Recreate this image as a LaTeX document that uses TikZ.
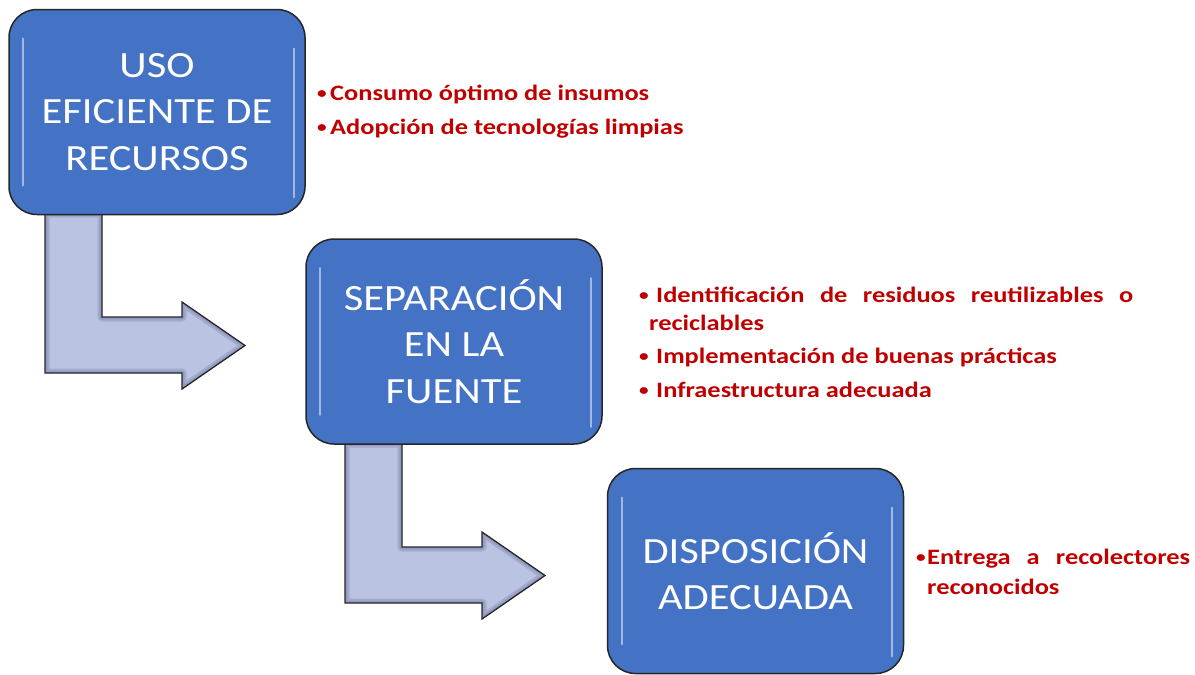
\documentclass[tikz,border=0pt]{standalone}
\usepackage{fontspec}
\setmainfont{Carlito}
\newfontfamily\boxfont[FakeStretch=1.15]{Carlito}
\newfontfamily\redfont[FakeStretch=1.2]{Carlito}
\newcommand{\smallbul}{\raisebox{0.15ex}{\fontsize{16}{16}\selectfont •}}
\definecolor{boxblue}{RGB}{68,114,196}
\definecolor{arrowfill}{RGB}{187,195,226}
\definecolor{arrowedge}{RGB}{120,128,170}
\definecolor{redtxt}{RGB}{192,0,0}
\begin{document}
\begin{tikzpicture}[x=1pt,y=-1pt,
  stepbox/.style={draw=black!85,line width=1.5pt,fill=boxblue,rounded corners=28pt,
    minimum width=#1,minimum height=205pt,inner sep=0pt,align=center,text=white,
    font=\boxfont\fontsize{37}{46.5}\selectfont},
  bendarrow/.style={draw=black!85,line width=1.3pt,line join=miter},
  gloss/.style={white,opacity=0.5,line width=2.2pt,line cap=round},
  redline/.style={anchor=base west,inner sep=0pt,text=redtxt,font=\redfont\fontsize{22}{30}\selectfont\bfseries}]
\useasboundingbox (0,0) rectangle (1195,675);
% arrows
\def\arrowA{(45,213) -- (45,373) -- (182,373) -- (182,389) -- (245,345.5) -- (182,302) -- (182,317) -- (102,317) -- (102,213) -- cycle}
\def\arrowB{(345,443) -- (345,603) -- (482,603) -- (482,619) -- (545,575.5) -- (482,532) -- (482,547) -- (402,547) -- (402,443) -- cycle}
\fill[arrowfill] \arrowA;
\begin{scope}
  \clip \arrowA;
  \draw[arrowedge,line width=9pt,opacity=0.35,line join=round] \arrowA;
  \draw[arrowedge,line width=5pt,opacity=0.35,line join=round] \arrowA;
\end{scope}
\draw[bendarrow] \arrowA;
\fill[arrowfill] \arrowB;
\begin{scope}
  \clip \arrowB;
  \draw[arrowedge,line width=9pt,opacity=0.35,line join=round] \arrowB;
  \draw[arrowedge,line width=5pt,opacity=0.35,line join=round] \arrowB;
\end{scope}
\draw[bendarrow] \arrowB;
% boxes
\node[stepbox=296pt] (b1) at (157,112) {USO\\EFICIENTE DE\\RECURSOS};
\node[stepbox=296pt] (b2) at (454,341.5) {SEPARACIÓN\\EN LA\\FUENTE};
\node[stepbox=296pt] (b3) at (755.5,571) {DISPOSICIÓN\\ADECUADA};
\foreach \b in {b1,b2,b3}{
  \draw[gloss] ([shift={(15pt,-30pt)}]\b.north west) -- ([shift={(15pt,30pt)}]\b.south west);
  \draw[gloss] ([shift={(-12pt,-40pt)}]\b.north east) -- ([shift={(-12pt,18pt)}]\b.south east);
}
% texts
\node[redline] (l1x) at (317,100) {\smallbul};
\node[redline] (l1a) at (330,100) {Consumo óptimo de insumos};
\node[redline] (l1y) at (317,134) {\smallbul};
\node[redline] (l1b) at (330,134) {Adopción de tecnologías limpias};
\node[redline] (l2x) at (639,302) {\smallbul};
\node[redline] (l2a) at (656,302) {\makebox[477pt][s]{Identificación de residuos reutilizables o}};
\node[redline] (l2b) at (649,330) {reciclables};
\node[redline] (l2y) at (639,363) {\smallbul};
\node[redline] (l2c) at (656,363) {Implementación de buenas prácticas};
\node[redline] (l2z) at (639,397) {\smallbul};
\node[redline] (l2d) at (656,397) {Infraestructura adecuada};
\node[redline] (l3x) at (916,564) {\smallbul};
\node[redline] (l3a) at (927,564) {\makebox[263pt][s]{Entrega a recolectores}};
\node[redline] (l3b) at (927,594) {reconocidos};
\end{tikzpicture}
\end{document}
